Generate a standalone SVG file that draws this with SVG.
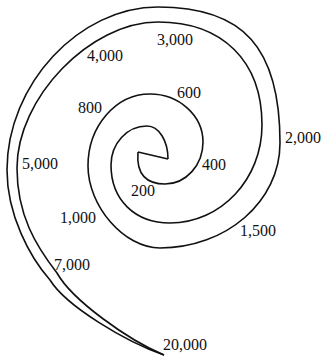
<svg xmlns="http://www.w3.org/2000/svg" width="323" height="358" viewBox="0 0 323 358">
<style>
.ln{fill:none;stroke:#111;stroke-width:1.6;stroke-linejoin:round}
.lb{font-family:"Liberation Serif","Times New Roman",serif;font-size:16px;fill:#111}
</style>
<rect width="323" height="358" fill="#fff"/>
<g id="spiral">
<path id="inner-wall" class="ln" d="M168,159 C168,141 159,126 147,126 C127,126 111,143.5 111,165 C111,200 135,223 170,223 C221,223 262,179 262,125 C262,61 222.5,22 158,22 C90,22 17,98 17,168 C17,215 36,246 57,273 C72,300 128,340 164,355"/>
<path id="outer-wall" class="ln" d="M138,152 C136,175 147,184 165,184 C186,184 203,165 203,142 C203,115.6 179,94 150,94 C116,94 88,126 88,166 C88,206 124,248 160,248 C226,248 280,201.7 280,143 C280,47.5 243.4,7 158,7 C79.5,7 7,84 7,170 C7,215 30,257.5 50,280 C66,306 126,342 164,355"/>
<path id="apex" class="ln" d="M138,152 L168,159"/>
</g>
<g id="labels" class="lb">
<text x="157" y="45">3,000</text>
<text x="87" y="61">4,000</text>
<text x="177" y="98">600</text>
<text x="78" y="113">800</text>
<text x="285" y="143">2,000</text>
<text x="22" y="169">5,000</text>
<text x="202" y="170">400</text>
<text x="131" y="196">200</text>
<text x="60" y="223">1,000</text>
<text x="240" y="236">1,500</text>
<text x="54" y="270">7,000</text>
<text x="163" y="350">20,000</text>
</g>
</svg>
